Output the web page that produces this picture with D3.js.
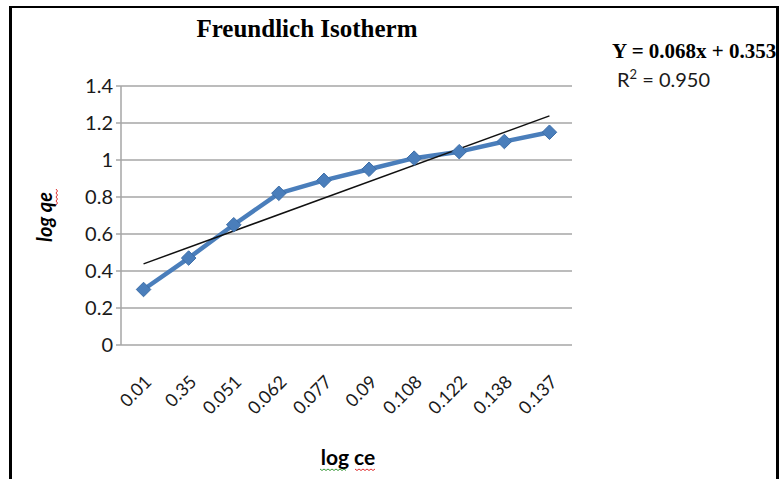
<!DOCTYPE html>
<html>
<head>
<meta charset="utf-8">
<script src="https://cdn.jsdelivr.net/npm/d3@7"></script>
<style>
  body { margin: 0; background: #fff; }
  svg { display: block; }
</style>
</head>
<body>
<div id="chart"></div>
<script>
// chart data
var categories = ['0.01', '0.35', '0.051', '0.062', '0.077', '0.09', '0.108', '0.122', '0.138', '0.137'];
var logQe = [0.30, 0.47, 0.65, 0.82, 0.89, 0.95, 1.01, 1.045, 1.10, 1.15];
var yTicks = [0, 0.2, 0.4, 0.6, 0.8, 1, 1.2, 1.4];

var width = 780, height = 479;

var svg = d3.select('#chart').append('svg')
    .attr('width', width)
    .attr('height', height);

// plot box (not named top/left: window.top is taken)
var plotL = 121, plotR = 572, plotT = 86, plotB = 345;

var x = d3.scaleBand().domain(categories).range([plotL, plotR]);
var y = d3.scaleLinear().domain([0, 1.4]).range([plotB, plotT]);

// gridlines
svg.append('g').selectAll('line').data(yTicks).enter().append('line')
    .attr('x1', plotL - 5)
    .attr('x2', plotR)
    .attr('y1', function(d) { return y(d); })
    .attr('y2', function(d) { return y(d); })
    .attr('stroke', '#a6a6a6')
    .attr('stroke-width', 1.5);

// y axis line
svg.append('line')
    .attr('x1', plotL).attr('x2', plotL)
    .attr('y1', plotT).attr('y2', plotB)
    .attr('stroke', '#a6a6a6')
    .attr('stroke-width', 1.5);

// y tick labels
svg.append('g').selectAll('text').data(yTicks).enter().append('text')
    .attr('x', plotL - 8)
    .attr('y', function(d) { return y(d); })
    .attr('dy', '0.36em')
    .attr('text-anchor', 'end')
    .style('font-family', 'Lato, sans-serif')
    .style('font-size', '20px')
    .attr('fill', '#1a1a1a')
    .text(function(d) { return d; });

// x tick labels, rotated
svg.append('g').selectAll('text').data(categories).enter().append('text')
    .attr('transform', function(d) {
        return 'translate(' + (x(d) + x.bandwidth() / 2 + 9) + ',' + (plotB + 38) + ') rotate(-45)';
    })
    .attr('text-anchor', 'end')
    .style('font-family', 'Lato, sans-serif')
    .style('font-size', '18px')
    .attr('fill', '#1a1a1a')
    .text(function(d) { return d; });

// linear trendline from the data (x = 1..n)
var n = logQe.length;
var idx = d3.range(1, n + 1);
var mx = d3.mean(idx), my = d3.mean(logQe);
var sxy = d3.sum(idx, function(i, k) { return (i - mx) * (logQe[k] - my); });
var sxx = d3.sum(idx, function(i) { return (i - mx) * (i - mx); });
var slope = sxy / sxx, icpt = my - slope * mx;

var cx = function(i) { return x(categories[i]) + x.bandwidth() / 2; };

// data line
var line = d3.line()
    .x(function(d, i) { return cx(i); })
    .y(function(d) { return y(d); });

svg.append('path')
    .datum(logQe)
    .attr('d', line)
    .attr('fill', 'none')
    .attr('stroke', '#4a7ebb')
    .attr('stroke-width', 4.5)
    .attr('stroke-linejoin', 'round');

// trendline on top
svg.append('line')
    .attr('x1', cx(0)).attr('y1', y(icpt + slope * 1))
    .attr('x2', cx(n - 1)).attr('y2', y(icpt + slope * n))
    .attr('stroke', '#111')
    .attr('stroke-width', 1.5);

// diamond markers
svg.append('g').selectAll('path').data(logQe).enter().append('path')
    .attr('d', d3.symbol().type(d3.symbolDiamond2).size(135))
    .attr('transform', function(d, i) { return 'translate(' + cx(i) + ',' + y(d) + ')'; })
    .attr('fill', '#4a7ebb')
    .attr('stroke', '#3d6ea8')
    .attr('stroke-width', 1);

// title
svg.append('text')
    .attr('x', 307).attr('y', 37)
    .attr('text-anchor', 'middle')
    .style('font-family', '"Liberation Serif", serif')
    .style('font-weight', 'bold')
    .style('font-size', '25px')
    .text('Freundlich Isotherm');

// equation and R²
svg.append('text')
    .attr('x', 612).attr('y', 58)
    .style('font-family', '"Liberation Serif", serif')
    .style('font-weight', 'bold')
    .style('font-size', '21px')
    .text('Y = 0.068x + 0.353');

var r2 = svg.append('text')
    .attr('x', 617).attr('y', 87)
    .style('font-family', 'Lato, sans-serif')
    .style('font-size', '20px')
    .attr('fill', '#1a1a1a');
r2.append('tspan').text('R');
r2.append('tspan').attr('dy', -8).style('font-size', '13px').text('2');
r2.append('tspan').attr('dy', 8).text(' = 0.950');

// axis titles
svg.append('text')
    .attr('x', 348).attr('y', 465)
    .attr('text-anchor', 'middle')
    .style('font-family', 'Lato, sans-serif')
    .style('font-weight', 'bold')
    .style('font-size', '21px')
    .text('log ce');

svg.append('text')
    .attr('transform', 'translate(52,217) rotate(-90)')
    .attr('text-anchor', 'middle')
    .style('font-family', 'Lato, sans-serif')
    .style('font-weight', 'bold')
    .style('font-style', 'italic')
    .style('font-size', '20px')
    .text('log qe');

// spell-check squiggles under axis titles
function squiggle(x0, y0, len, color, vertical) {
    var pts = d3.range(0, len + 1, 2).map(function(t, k) {
        var off = (k % 2 ? 1.5 : 0);
        return vertical ? [x0 + off, y0 - t] : [x0 + t, y0 + off];
    });
    svg.append('path')
        .attr('d', d3.line()(pts))
        .attr('fill', 'none')
        .attr('stroke', color)
        .attr('stroke-width', 1);
}
squiggle(320, 469, 27, '#3a9a3a', false);
squiggle(355, 469, 20, '#e03030', false);
squiggle(56, 205, 16, '#e03030', true);

// outer frame
svg.append('line').attr('x1', 9).attr('x2', 779).attr('y1', 7).attr('y2', 7)
    .attr('stroke', '#000').attr('stroke-width', 2);
svg.append('line').attr('x1', 10.5).attr('x2', 10.5).attr('y1', 6).attr('y2', height)
    .attr('stroke', '#000').attr('stroke-width', 3);
svg.append('line').attr('x1', 777.5).attr('x2', 777.5).attr('y1', 6).attr('y2', height)
    .attr('stroke', '#000').attr('stroke-width', 3);
</script>
</body>
</html>
